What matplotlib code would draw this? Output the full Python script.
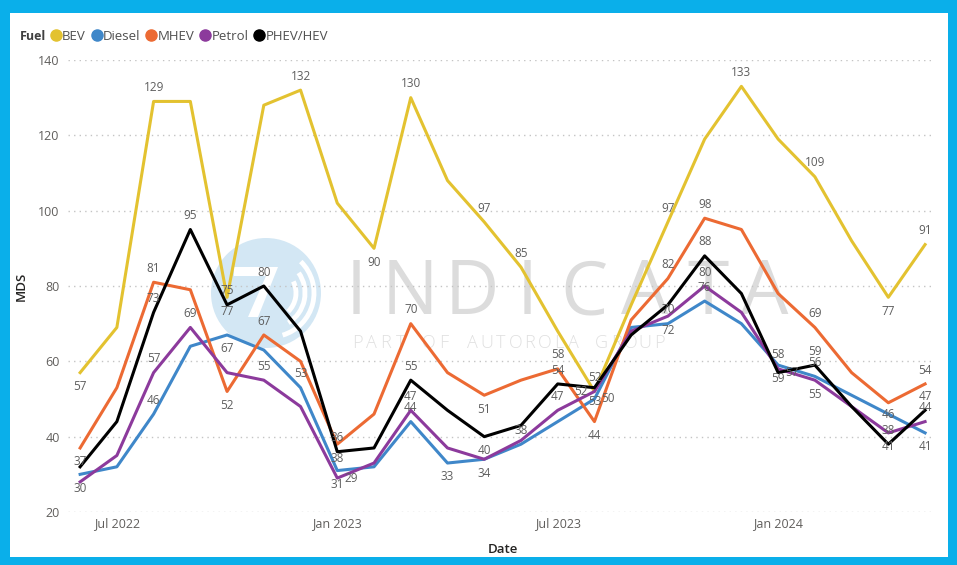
import matplotlib
matplotlib.use("Agg")
import matplotlib.pyplot as plt
from matplotlib.lines import Line2D
from matplotlib.patches import Rectangle, Ellipse, Arc, Polygon

plt.rcParams['font.family'] = ['Open Sans', 'DejaVu Sans']

# monthly MDS by fuel type, Jun 2022 .. May 2024
months = ['Jun 2022', 'Jul 2022', 'Aug 2022', 'Sep 2022', 'Oct 2022', 'Nov 2022',
          'Dec 2022', 'Jan 2023', 'Feb 2023', 'Mar 2023', 'Apr 2023', 'May 2023',
          'Jun 2023', 'Jul 2023', 'Aug 2023', 'Sep 2023', 'Oct 2023', 'Nov 2023',
          'Dec 2023', 'Jan 2024', 'Feb 2024', 'Mar 2024', 'Apr 2024', 'May 2024']
bev = [57, 69, 129, 129, 77, 128, 132, 102, 90, 130, 108, 97,
       85, 68, 52, 75, 97, 119, 133, 119, 109, 92, 77, 91]
diesel = [30, 32, 46, 64, 67, 63, 53, 31, 32, 44, 33, 34,
          38, 44, 50, 69, 70, 76, 70, 59, 56, 51, 46, 41]
mhev = [37, 53, 81, 79, 52, 67, 60, 38, 46, 70, 57, 51,
        55, 58, 44, 71, 82, 98, 95, 78, 69, 57, 49, 54]
petrol = [28, 35, 57, 69, 57, 55, 48, 29, 33, 47, 37, 34,
          39, 47, 52, 68, 72, 80, 73, 58, 55, 48, 41, 44]
phev = [32, 44, 73, 95, 75, 80, 68, 36, 37, 55, 47, 40,
        43, 54, 53, 67, 75, 88, 78, 57, 59, 48, 38, 47]

tick_months = ['Jul 2022', 'Jan 2023', 'Jul 2023', 'Jan 2024']

# which points carry a data label, and where it sits (a=above, b=below, l/r=side, o=on)
bev_labels = {0: 'b', 2: 'a', 4: 'b', 6: 'a', 8: 'b', 9: 'a', 11: 'a', 12: 'a',
              14: 'a', 16: 'a', 18: 'a', 20: 'a', 22: 'b', 23: 'a'}
diesel_labels = {0: 'b', 2: 'a', 4: 'b', 6: 'a', 7: 'b', 9: 'a', 10: 'b', 12: 'a',
                 14: 'r', 16: 'a', 17: 'a', 19: 'b', 20: 'a', 22: 'o', 23: 'b'}
mhev_labels = {0: 'b', 2: 'a', 4: 'b', 5: 'a', 7: 'b', 9: 'a', 11: 'b', 13: 'a',
               14: 'b', 16: 'a', 17: 'a', 20: 'a', 23: 'a'}
petrol_labels = {2: 'a', 3: 'a', 5: 'a', 7: 'r', 9: 'a', 11: 'b', 13: 'a', 14: 'l',
                 16: 'b', 17: 'a', 19: 'a', 20: 'b', 22: 'b', 23: 'a'}
phev_labels = {2: 'a', 3: 'a', 4: 'a', 5: 'a', 7: 'a', 9: 'a', 11: 'b', 13: 'a',
               14: 'b', 17: 'a', 19: 'r', 20: 'a', 22: 'a', 23: 'a'}

series = [
    ('BEV', bev, '#E3C230', bev_labels),
    ('Diesel', diesel, '#3F87C9', diesel_labels),
    ('MHEV', mhev, '#EC6A33', mhev_labels),
    ('Petrol', petrol, '#8C3A9C', petrol_labels),
    ('PHEV/HEV', phev, '#000000', phev_labels),
]

W, H = 957, 565
fig = plt.figure(figsize=(W / 100, H / 100), dpi=100)


def fx(px):
    return px / W


def fy(py):
    return 1 - py / H


# cyan card border
fig.patches.append(Rectangle((0, 0), 1, 1, transform=fig.transFigure,
                             facecolor='#0AAFEA', edgecolor='none', zorder=-10))
fig.patches.append(Rectangle((fx(10), fy(557)), fx(948) - fx(10), fy(13) - fy(557),
                             transform=fig.transFigure, facecolor='white',
                             edgecolor='none', zorder=-9))

ax = fig.add_axes([fx(68), fy(512), fx(935) - fx(68), fy(60) - fy(512)])
ax.set_facecolor('none')

# watermark: logo disc + wordmark
tf = fig.transFigure
cx, cy, r = 266, 293, 55
ax.add_patch(Ellipse((fx(cx), fy(cy)), 2 * r / W, 2 * r / H, transform=tf,
                     facecolor='#d3e7f4', edgecolor='none', zorder=0.2))
for k, rr in enumerate([44, 35, 26]):
    ax.add_patch(Arc((fx(cx + 4), fy(cy)), 2 * rr / W, 2 * rr / H, transform=tf,
                     theta1=-80 + 10 * k, theta2=60 - 10 * k, color='white', lw=3.5, zorder=0.3))
ax.add_patch(Polygon([(fx(cx - 32), fy(cy - 26)), (fx(cx + 12), fy(cy - 26)),
                      (fx(cx - 8), fy(cy + 24)), (fx(cx - 18), fy(cy + 24)),
                      (fx(cx), fy(cy - 17)), (fx(cx - 32), fy(cy - 17))],
                     closed=True, transform=tf, facecolor='white', edgecolor='none', zorder=0.3))
for ch, xc in zip('INDICATA', [356, 410, 472, 527, 584, 645, 708, 765]):
    ax.text(fx(xc), fy(295), ch, transform=tf, ha='center', va='center',
            fontsize=54, color='#dcdcdc', zorder=0.4)
for i, ch in enumerate('PART OF AUTOROLA GROUP'):
    ax.text(fx(357 + i * 14.4), fy(343), ch, transform=tf, ha='center', va='center',
            fontsize=13, fontweight='light', color='#e0e0e0', zorder=0.4)

x = list(range(len(months)))
offsets = {'a': (0, 10), 'b': (0, -10), 'r': (10, 0), 'l': (-10, 0), 'o': (0, 0)}

handles = []
for name, vals, color, labels in series:
    ax.plot(x, vals, color=color, lw=2.2, solid_joinstyle='round', zorder=2)
    for i, pos in labels.items():
        ax.annotate(str(vals[i]), (x[i], vals[i]), xytext=offsets[pos],
                    textcoords='offset points', ha='center', va='center',
                    fontsize=8.5, color='#5e5e5e', zorder=3)
    handles.append(Line2D([], [], marker='o', ls='', ms=8, color=color))

ax.set_ylim(20, 140)
ax.set_xlim(-0.33, 23.27)
ax.set_yticks(range(20, 141, 20))
ax.set_xticks([months.index(m) for m in tick_months])
ax.set_xticklabels(tick_months)
ax.tick_params(length=0, labelsize=9, labelcolor='#605e5c')
ax.tick_params(axis='y', pad=6)
ax.tick_params(axis='x', pad=4)
ax.grid(axis='y', color='#c4c4c4', linestyle=(0, (1, 3)), lw=1)
ax.set_axisbelow(True)
for s in ax.spines.values():
    s.set_visible(False)

ax.set_xlabel('Date', fontsize=9.5, fontweight='semibold', color='#252423')
ax.xaxis.set_label_coords((503 - 68) / 867, (512 - 543) / 452)
ax.set_ylabel('MDS', fontsize=9.5, fontweight='semibold', color='#252423')
ax.yaxis.set_label_coords((28 - 68) / 867, 0.5)

fig.text(fx(20), fy(36), 'Fuel', fontsize=9, fontweight='bold', color='#404040',
         ha='left', va='center')
fig.legend(handles, [s[0] for s in series], loc='center left',
           bbox_to_anchor=(fx(51), fy(36)), ncol=5, frameon=False, fontsize=9.5,
           handlelength=0.7, handletextpad=0.15, columnspacing=0.45,
           borderpad=0, borderaxespad=0, labelcolor='#505050')

fig.savefig('out.png', dpi=100)
